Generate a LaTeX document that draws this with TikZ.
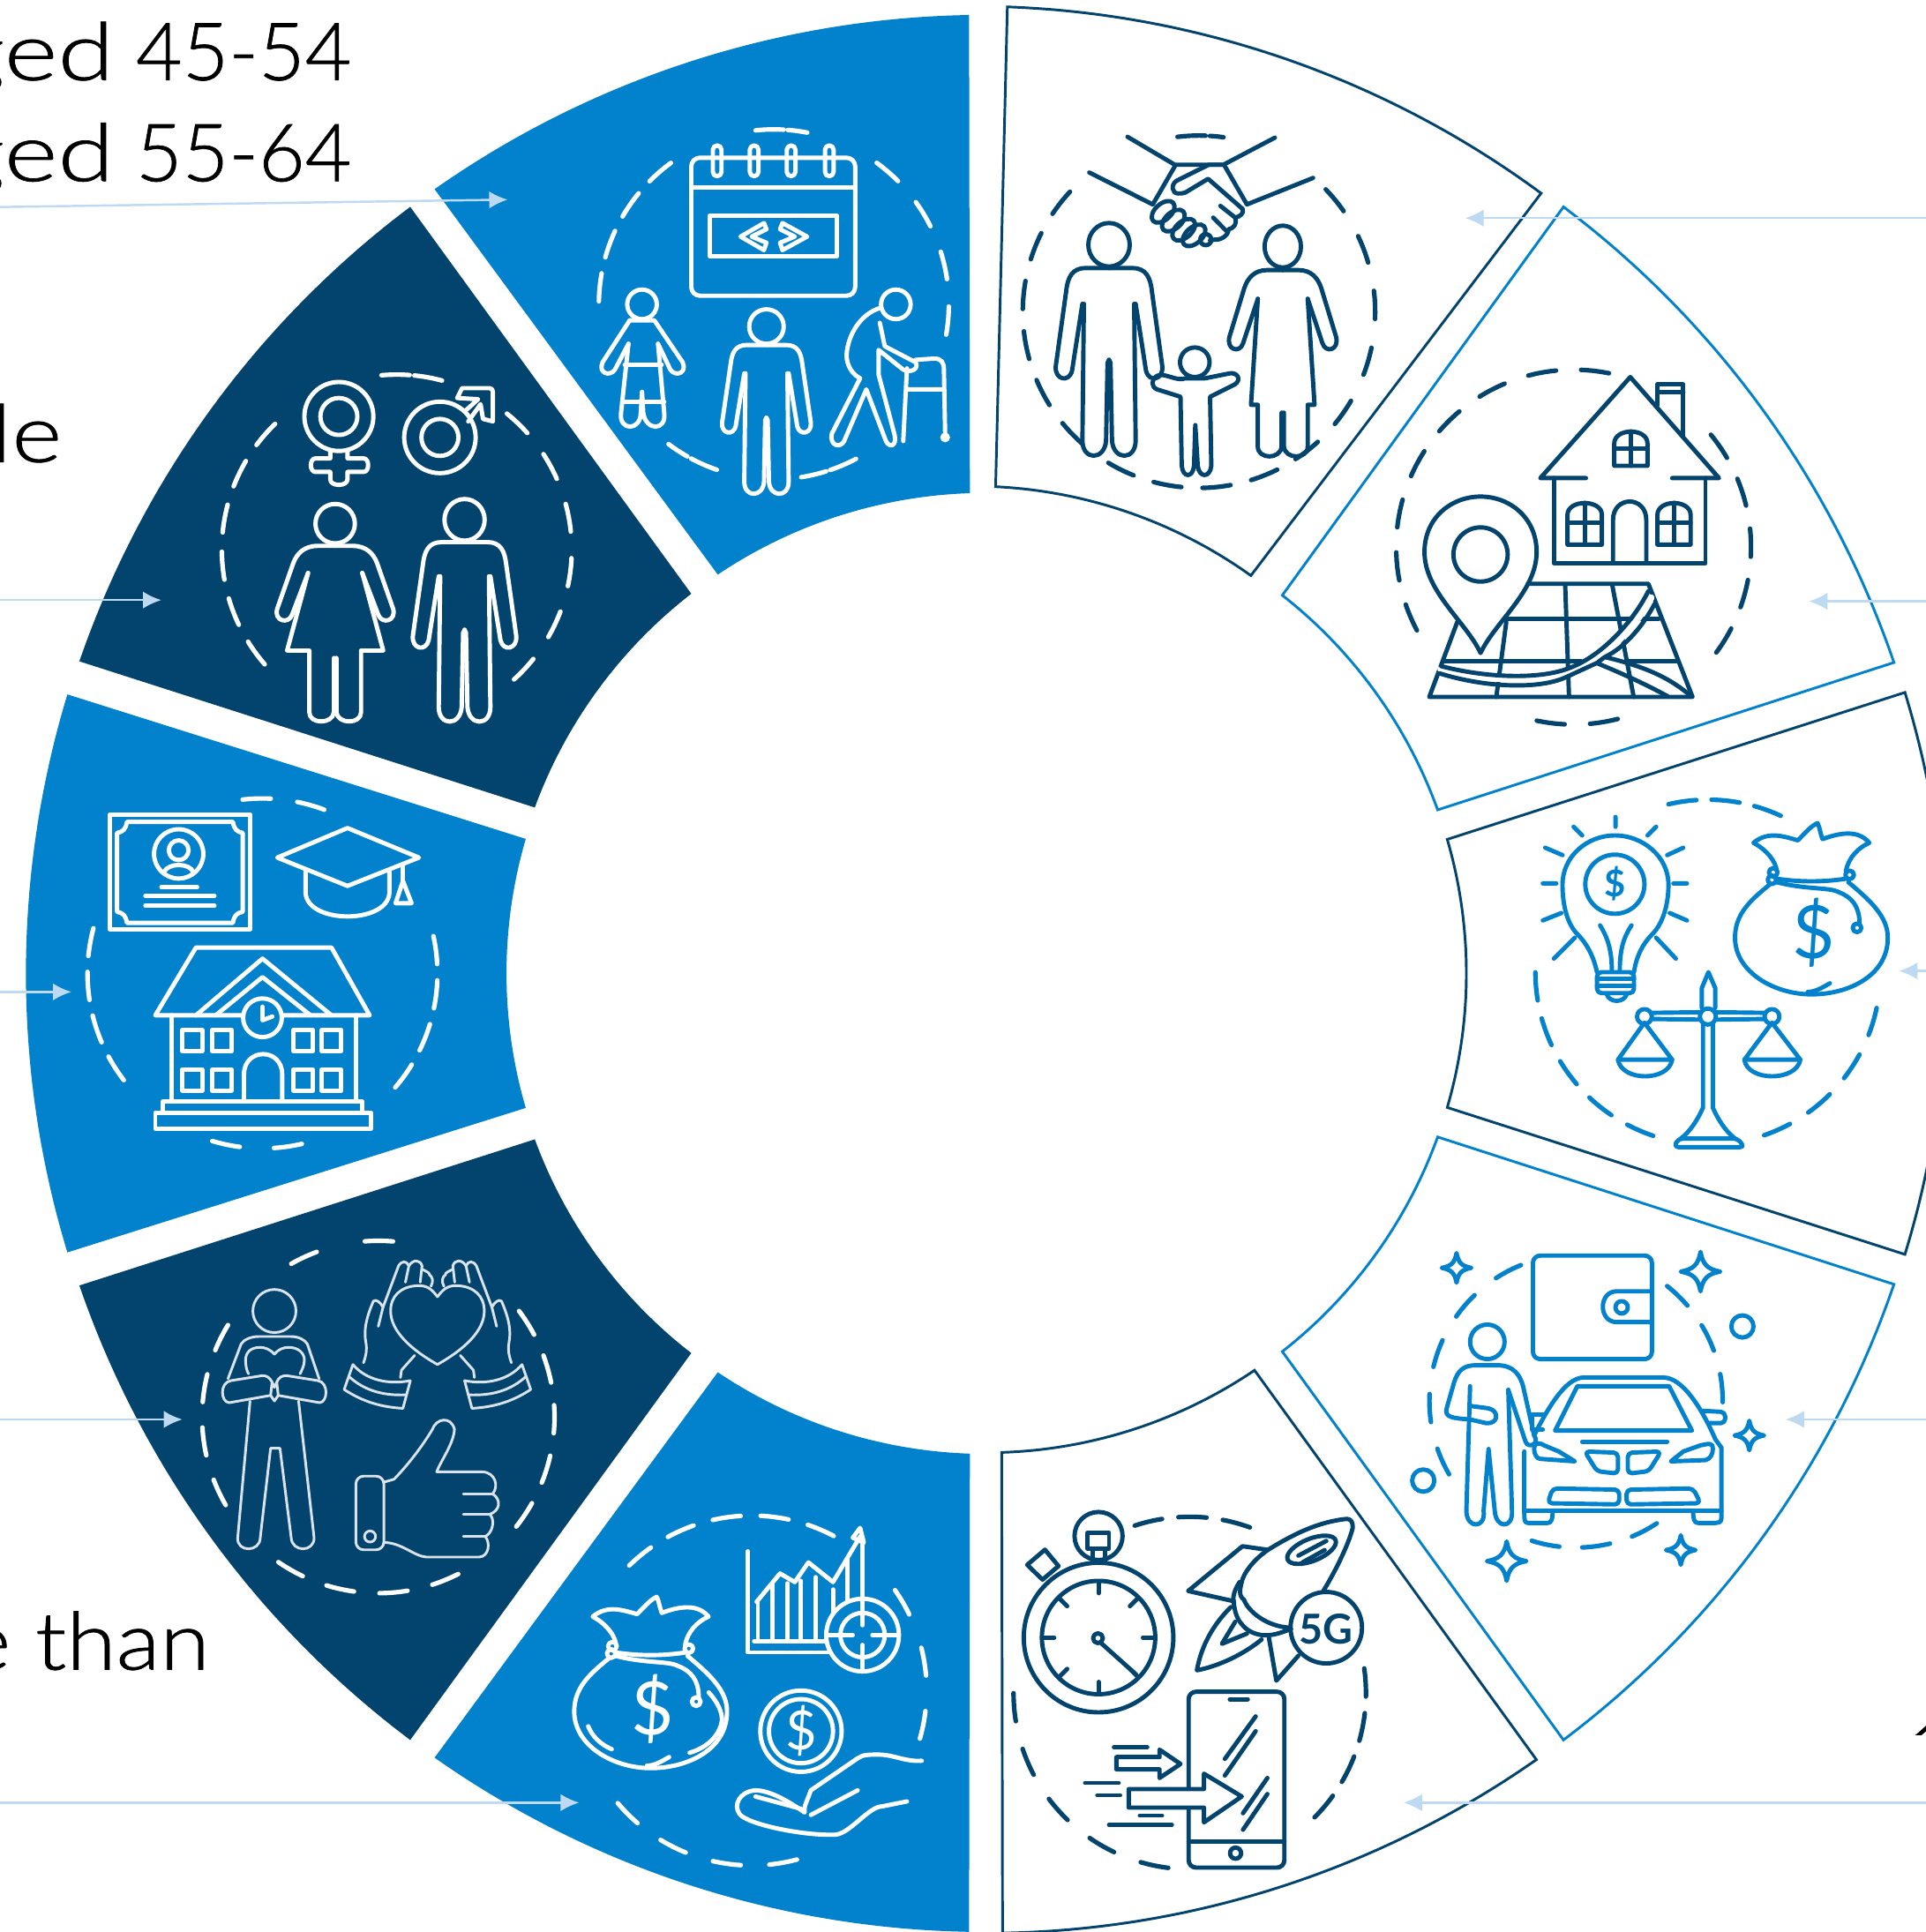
\documentclass[tikz,border=0pt]{standalone}
\usepackage{fontspec}
\usepackage{graphicx}
\setmainfont{Lato}
\newfontfamily\thinfont[RawFeature={embolden=0.8}]{Lato Light}
\usetikzlibrary{arrows.meta}
\definecolor{cblue}{HTML}{0282CD}
\definecolor{cdark}{HTML}{03446F}
\definecolor{clight}{HTML}{BDDAF2}
\tikzset{
 ic/.style={line width=1pt,line cap=round,line join=round},
 thinic/.style={line width=0.6pt,line cap=round,line join=round},
 dsh/.style={line width=1.05pt,line cap=round},
 lead/.style={draw=clight,line width=0.5pt,-{Latex[length=1.5mm,width=1.4mm]}},
 outl/.style={line width=0.6pt,line join=miter},
 big/.style={font=\thinfont\fontsize{18.5}{20}\selectfont,text=black,inner sep=0pt}
}
% ring segment
\newcommand\seg[9]{\path[#9] plot[domain=#5:#6,samples=60] ({#1+#3*cos(\x)},{#2+#3*sin(\x)}) -- plot[domain=#7:#8,samples=40] ({#1+#4*cos(\x)},{#2+#4*sin(\x)}) -- cycle;}
% dashed arc holding a whole number of dashes
\newcommand\dc[5]{%
 \pgfmathsetmacro\dcL{#3*0.004965*abs(#5-#4)}%
 \pgfmathsetmacro\dcN{max(2,round((\dcL+5.5)/12))}%
 \pgfmathsetmacro\dcO{max(1,(\dcL-\dcN*6.5)/(\dcN-1))}%
 \draw[dsh,dash pattern=on 6.5pt off \dcO pt] plot[domain=#4:#5,samples=50] ({#1+#3*cos(\x)},{#2+#3*sin(\x)});}
\newcommand\manhalf{\draw (0,29) -- (16,29) .. controls (25,29) and (28,35) .. (29,44) -- (36,92) .. controls (37,101) and (27,103) .. (25,95) -- (18,52);
 \draw (17,52) -- (18,140) .. controls (18,153) and (3,153) .. (2,140) -- (1,90) -- (0,88);}
\newcommand\manfig{\draw (0,14) circle (14); \manhalf \begin{scope}[xscale=-1]\manhalf\end{scope}}
\newcommand\womanhalf[4]{\draw (0,36) -- (14,36) .. controls (25,36) and (31,42) .. (34,50) -- (47,87) .. controls (50,97) and (38,100) .. (35,92) -- (22,58);
 \draw (22,58) -- (#1,#2) -- (#3,#2) -- (#3,#4-9) .. controls (#3,#4+1) and (2,#4+1) .. (1,#4-9) -- (1,#2+6);}
\newcommand\womanfig[4]{\draw (0,18) circle (16); \womanhalf{#1}{#2}{#3}{#4} \begin{scope}[xscale=-1]\womanhalf{#1}{#2}{#3}{#4}\end{scope}}
\newcommand\bagfig{%
 \draw (-28,-57) .. controls (-29,-65) and (-36,-74) .. (-47,-80) .. controls (-35,-90) and (-22,-85) .. (-11,-82) .. controls (-5,-88) and (0,-94) .. (5,-96) .. controls (7,-92) and (7,-88) .. (9,-83) .. controls (20,-87) and (37,-92) .. (47,-80) .. controls (38,-76) and (30,-68) .. (28,-57);
 \draw (-29,-51) .. controls (-10,-48) and (10,-48) .. (29,-51);
 \draw (-31,-56) circle (3.5) (-32,-50) circle (3.5) (31,-54) circle (3.5);
 \draw (-34,-46) .. controls (-50,-33) and (-62,-22) .. (-62,-3) .. controls (-62,25) and (-30,43) .. (0,43) .. controls (30,43) and (62,28) .. (62,-3) .. controls (62,-20) and (48,-33) .. (30,-48);
 \draw (-28,-48) .. controls (-5,-42) and (15,-44) .. (22,-40) .. controls (33,-36) and (39,-28) .. (39,-15);
 \draw (37,-11) circle (3.5);
 \draw (15,34) .. controls (8,38) and (3,41) .. (-3,41);}
\newcommand\spark[3]{\draw[shift={(#1,#2)}] (0,-#3) .. controls ({.12*#3},{-.35*#3}) and ({.35*#3},{-.12*#3}) .. (#3,0) .. controls ({.35*#3},{.12*#3}) and ({.12*#3},{.35*#3}) .. (0,#3) .. controls ({-.12*#3},{.35*#3}) and ({-.35*#3},{.12*#3}) .. (-#3,0) .. controls ({-.35*#3},{-.12*#3}) and ({-.12*#3},{-.35*#3}) .. cycle;}
\newcommand\archwin[4]{\draw (#1,#4) -- (#1,#3+10) .. controls (#1,#3-3) and (#2,#3-3) .. (#2,#3+10) -- (#2,#4) -- cycle;}
\newcommand\lovehand{%
 \draw (0,1052.5) .. controls (-4,1047) and (-8,1043) .. (-16,1043.4) .. controls (-30,1044) and (-38,1052) .. (-38,1064) .. controls (-38,1080) and (-22,1095) .. (0,1107.4);
 \draw (-68.6,1107.4) -- (-75.7,1127.7) .. controls (-60,1138) and (-45,1142) .. (-28,1143) -- (-22,1120.5) .. controls (-40,1124) and (-58,1120) .. (-68.6,1107.4);
 \draw (-72,1117) .. controls (-60,1128) and (-45,1133) .. (-25,1132);
 \draw (-60,1106) .. controls (-58,1100) and (-57,1096) .. (-58,1090) .. controls (-60,1080) and (-58,1070) .. (-52,1056) .. controls (-50,1054) and (-46,1057) .. (-44.2,1061) -- (-48,1076.4);
 \draw (-44.2,1061) -- (-31.6,1027.4) .. controls (-29,1023) and (-25,1023) .. (-23.2,1027.4) -- (-26,1040.6);
 \draw (-23.2,1027.4) .. controls (-20,1022) and (-14,1022) .. (-12.5,1027.4) -- (-14,1040.6);
 \draw (-12.5,1030) .. controls (-9,1032) and (-6,1033) .. (-6.5,1034.6) .. controls (-4,1036) and (-3,1040) .. (-5.3,1044);
 \draw (-18.5,1100) -- (-29.2,1112) -- (-30,1118);
}
\begin{document}
\begin{tikzpicture}[x=0.01cm,y=-0.01cm]
\useasboundingbox (0,0) rectangle (1563,1568);
\clip (0,0) rectangle (1563,1568);
\fill[white] (0,0) rectangle (1563,1568);
% left filled segments
\seg{800}{790}{778}{390}{234.9}{269}{268.1}{236.1}{fill=cblue}
\seg{800}{790}{778}{390}{199}{233.1}{232.2}{200.2}{fill=cdark}
\seg{800}{790}{779}{389}{163.1}{196.9}{196.3}{163.7}{fill=cblue}
\seg{800}{790}{778}{390}{126.9}{161}{159.8}{127.8}{fill=cdark}
\seg{800}{790}{778}{390}{91}{125.1}{123.9}{91.9}{fill=cblue}
% right outlined segments
\seg{789}{783}{778}{388.5}{-87.9}{-53.6}{-54.4}{-87.2}{draw=cdark,outl}
\seg{800}{790}{779}{390}{-53}{-18.9}{-19.9}{-51.9}{draw=cblue,outl}
\seg{800}{790}{780}{390}{-17}{17}{16.2}{-16.2}{draw=cdark,outl}
\seg{800}{790}{779}{390}{18.9}{53}{51.9}{19.9}{draw=cblue,outl}
\seg{800}{790}{779}{389}{55}{89}{88.1}{55.9}{draw=cdark,outl}

% ===== icon 1: calendar and ages
\begin{scope}[color=white,ic]
\dc{628}{247}{142}{181}{234}
\dc{628}{247}{142}{264}{281}
\dc{628}{247}{142}{-54}{10}
\dc{628}{247}{142}{62}{81}
\dc{628}{247}{142}{109}{127}
\draw[rounded corners=2pt] (561,128) rectangle (694,240);
\draw (561,152) -- (694,152);
\foreach \q in {582,612,642,673} \draw[rounded corners=1pt] (\q-3.5,118) rectangle (\q+3.5,143);
\draw (576,175) rectangle (679,208);
\draw (620,181) -- (601,192) -- (620,203) -- (622,197) -- (610,192) -- (622,186) -- cycle;
\draw (635,181) -- (655,192) -- (635,203) -- (633,197) -- (645,192) -- (633,186) -- cycle;
% child
\draw (521,247) circle (12);
\draw (511,260) -- (531,260) -- (554,294) .. controls (558,303) and (548,306) .. (544,300) -- (534,279);
\draw (511,260) -- (489,294) .. controls (485,303) and (495,306) .. (499,300) -- (510,279);
\draw (510,279) -- (504,335) .. controls (502,350) and (520,350) .. (520,335) -- (521,318) -- (522,335) .. controls (524,350) and (541,350) .. (539,335) -- (534,279);
\draw (507,296) -- (537,296) (505,326) -- (539,326);
\begin{scope}[shift={(622,251)}]\manfig\end{scope}
% elderly
\draw (727,247) circle (12);
\draw (714,250) .. controls (698,255) and (688,272) .. (687,288) .. controls (687,297) and (692,304) .. (698,307) -- (675,352) .. controls (673,362) and (682,364) .. (685,358) -- (703,316) -- (719,358) .. controls (722,364) and (728,362) .. (726,353) -- (713,304) -- (713,284) -- (733,300) .. controls (740,303) and (746,299) .. (743,294) -- (718,281) -- (714,262);
\draw (743,292) -- (758,291) .. controls (764,291) and (766,294) .. (766,300) -- (767,352);
\draw (736,299) -- (733,358) (736,316) -- (766,316);
\fill (767,355) circle (4);
\end{scope}

% ===== icon 2: gender
\begin{scope}[color=white,ic]
\dc{322}{446}{142}{139}{226}
\dc{322}{446}{142}{265}{285}
\dc{322}{446}{142}{-51}{48}
\draw (275,338) circle (28) (275,338) circle (15);
\draw (268,366) -- (268,372) -- (256,372) .. controls (251,372) and (251,383) .. (256,383) -- (268,383) -- (268,389) .. controls (268,395) and (282,395) .. (282,389) -- (282,383) -- (295,383) .. controls (300,383) and (300,372) .. (295,372) -- (282,372) -- (282,366);
\draw (357,355) circle (29) (357,355) circle (15);
\draw (377,334) -- (388,324) -- (371,323) -- (375,315) -- (397,315) .. controls (399,315) and (400,316) .. (400,318) -- (400,342) -- (392,340) -- (390,328) -- (380,342);
\begin{scope}[shift={(272,407)}]\womanfig{39}{121}{21}{180}\end{scope}
\begin{scope}[shift={(377,405)},x=0.01165cm,y=-0.01205cm]\manfig\end{scope}
\end{scope}

% ===== icon 3: school
\begin{scope}[color=white,ic]
\dc{213}{790}{142}{142.4}{195}
\dc{213}{790}{142}{263.5}{290.7}
\dc{213}{790}{142}{-12.3}{40.7}
\dc{213}{790}{142}{77}{106.7}
\draw (89,661) rectangle (203,754);
\draw (103,667) -- (189,667) .. controls (190,673) and (192,675) .. (197,676) -- (197,740) .. controls (192,741) and (190,743) .. (189,749) -- (103,749) .. controls (102,743) and (100,741) .. (95,740) -- (95,676) .. controls (100,675) and (102,673) .. (103,667) -- cycle;
\draw (145,693) circle (20);
\draw (145,690) circle (8);
\draw (133,708) .. controls (136,700) and (154,700) .. (157,708);
\draw (131,720) -- (160,720) (118,727) -- (174,727) (118,735) -- (174,735);
\draw (225,696) -- (282,672) -- (340,696) -- (282,719) -- cycle;
\draw (248,707) -- (248,725) .. controls (250,750) and (314,750) .. (316,725) -- (316,707);
\draw (327,702) -- (327,716);
\draw (327,715) -- (334,733) -- (321,733) -- cycle;
\draw (126,824) -- (159,769) -- (269,769) -- (300,824) -- cycle;
\draw (159,824) -- (213,778) -- (269,824);
\draw (175,824) -- (213,793) -- (252,824);
\draw[fill=cblue] (213,826) circle (15.7);
\draw (213,817) -- (213,828) -- (221,825);
\draw (139,824) -- (139,894) (289,824) -- (289,894);
\draw (132,894) rectangle (294,903);
\draw (126,903) rectangle (301,916);
\foreach \q in {148,172,238,261} \foreach \r in {836,868} \draw (\q,\r) rectangle (\q+16,\r+17);
\draw (198,894) -- (198,872) .. controls (198,850) and (229,850) .. (229,872) -- (229,894);
\end{scope}

% ===== icon 4: love
\begin{scope}[color=white,ic]
\dc{307}{1150}{143}{150}{211.5}
\dc{307}{1150}{143}{240.4}{274.8}
\dc{307}{1150}{143}{-37}{38.5}
\dc{307}{1150}{143}{63}{124.6}
\end{scope}
\begin{scope}[color=white!85!cdark,thinic]
\draw (222.7,1064) circle (17.5);
\draw (185,1119) -- (195.7,1090.7) .. controls (198,1087) and (204,1084.7) .. (210,1084.7) -- (236,1084.7) .. controls (242,1084.7) and (247,1087) .. (249.4,1090.7) -- (259,1119);
\draw (222.7,1099) .. controls (219,1095) and (215,1093.5) .. (211,1093.5) .. controls (203,1093.5) and (199.3,1098) .. (199.3,1103.8) .. controls (199.3,1108) and (200,1112) .. (201.7,1115);
\draw (222.7,1099) .. controls (226,1095) and (230,1093.5) .. (234.2,1093.5) .. controls (242,1093.5) and (247,1098) .. (247,1103.8) .. controls (247,1108) and (245,1112) .. (243.5,1115);
\draw (220.8,1121.7) .. controls (219,1118) and (216,1116) .. (212.4,1116.5) -- (187.4,1120.5) .. controls (178,1122) and (179,1138) .. (186,1138.4) -- (219.6,1132.5) -- (222.7,1137) -- (225.8,1132.5) -- (259.4,1138.4) .. controls (266,1138) and (267,1122) .. (258,1120.5) -- (233,1116.5) .. controls (229,1116) and (226,1118) .. (224.6,1121.7) -- (222.7,1126) -- (220.8,1121.7) -- (219.6,1132.5);
\draw (224.6,1121.7) -- (225.8,1132.5);
\draw (202.9,1137.2) -- (192.9,1248) .. controls (192,1260) and (211,1260) .. (211.2,1248) -- (219.6,1175.4) -- (227.2,1175.4) -- (236.3,1248) .. controls (237,1260) and (255,1260) .. (254.9,1248) -- (242.3,1137);
\begin{scope}[shift={(355,0)}]\lovehand\end{scope}
\begin{scope}[shift={(355,0)},xscale=-1]\lovehand\end{scope}
\draw[rounded corners=1.8pt] (288.8,1198) rectangle (311.5,1257.8);
\draw (300.3,1247) circle (4.5);
\draw (311.5,1202.9) -- (319.8,1200.5) .. controls (330,1190) and (342,1175) .. (350.9,1160) .. controls (354,1151) and (366,1149) .. (368.8,1160) .. controls (368,1172) and (358,1185) .. (354.4,1194.5) -- (391.4,1194.5) .. controls (402,1195) and (405,1206) .. (399.8,1212.4) .. controls (407,1217) and (406,1226) .. (397.4,1229) .. controls (402,1233) and (400,1244) .. (393.8,1247) .. controls (398,1252) and (397,1263) .. (389,1263.7) -- (346,1263.7) .. controls (336,1263) and (326,1252) .. (311.5,1251.8);
\draw (376,1212.4) -- (399.8,1212.4) (376,1229) -- (397.4,1229) (376,1247) -- (393.8,1247);
\end{scope}

% ===== icon 5: money
\begin{scope}[color=white,ic]
\dc{610}{1372}{142}{225.6}{298}
\dc{610}{1372}{142}{-35}{16}
\dc{610}{1372}{142}{75}{140}
\begin{scope}[shift={(528,1392)}]\bagfig\end{scope}
\draw (477.3,1401) .. controls (481,1410) and (488,1416) .. (496.4,1419.6);
\draw (575.1,1373.5) .. controls (583,1382) and (586,1390) .. (585.9,1396) .. controls (584,1410) and (572,1419) .. (559.6,1422.5);
\node (dl5) at (529.8,1387) {\fontsize{17}{17}\selectfont\$};
\draw (607,1259) -- (607,1341) -- (673,1341);
\foreach \q/\t in {615/1300,627/1285,639/1285,650/1283,662/1280,676/1290,688/1265} \draw (\q,1332) -- (\q,\t);
\draw (700,1298) -- (700,1250);
\draw (614,1300) -- (633,1277) -- (645,1284) -- (656,1268) -- (676,1284) -- (698,1247);
\draw (698,1240) -- (701,1252) -- (692,1248) -- cycle;
\draw (612,1332) -- (670,1332);
\draw[fill=cblue] (700,1327) circle (29.5);
\draw (700,1327) circle (18);
\draw (672,1327) -- (692,1327) (708,1327) -- (728,1327) (700,1300) -- (700,1319) (700,1335) -- (700,1354);
\draw (650,1405) circle (33) (650,1405) circle (26);
\node (dl5b) at (650,1405) {\fontsize{12.5}{12.5}\selectfont\$};
\draw (748,1429) .. controls (735,1430) and (725,1424) .. (713,1424) .. controls (705,1424) and (700,1424) .. (696,1427) -- (658,1453) .. controls (655,1462) and (652,1466) .. (653,1471) .. controls (640,1462) and (625,1453) .. (613,1453) .. controls (600,1454) and (595,1465) .. (600,1472) .. controls (605,1480) and (650,1490) .. (678,1489) .. controls (690,1488) and (705,1466) .. (716,1466) -- (736,1462);
\draw (613,1458) -- (650,1468) (696,1453) -- (658,1473);
\end{scope}

% ===== icon 10: family
\begin{scope}[color=cdark,ic]
\dc{973}{253}{143}{131.6}{223}
\dc{973}{253}{143}{263}{278}
\dc{973}{253}{143}{-44}{39.6}
\dc{973}{253}{143}{47.6}{121}
\draw (915,111) -- (953.4,133.7) -- (992.8,133.7) -- (1034.6,111.7);
\draw (884,140) -- (935.5,165.9) -- (953.4,134.9);
\draw (1065.6,144.4) -- (1011.9,165.9) -- (994,134.9);
\draw (992.8,133.7) -- (980.9,133.7) -- (954.6,146.8) .. controls (950,150) and (951,157) .. (956,157) .. controls (958,157) and (960,157) .. (961.8,156.3) -- (980.4,145.1) -- (1008.3,169.5);
\foreach \cx/\cy in {943.9/171.9,952.2/179,960.6/186.4,969/191} \draw[rotate around={42:(\cx,\cy)}] (\cx,\cy) ellipse (11 and 6.5);
\draw (978.5,194.5) circle (4.5);
\draw (1008.3,169.5) .. controls (1010,173) and (1006,176) .. (1002.4,176.6) .. controls (1004,181) and (1002,185) .. (997,186) .. controls (997,191) and (991,195) .. (985.6,194.5) -- (982,195);
\draw (990.4,167.1) -- (1002.4,176.6) (984.5,176.6) -- (995.2,187.4);
\begin{scope}[shift={(900,181)},x=0.012cm,y=-0.0126cm]\manfig\end{scope}
\begin{scope}[shift={(1041,181)},x=0.0092cm,y=-0.0106cm]\womanfig{28}{139}{22}{180}\end{scope}
\draw (969.6,294) circle (12);
\draw (962,307) .. controls (955,310) and (945,302) .. (939,305) .. controls (934,308) and (934,314) .. (939,316) -- (958,322) -- (959,378) .. controls (960,388) and (968,388) .. (969,378) -- (970,345) -- (972,378) .. controls (973,388) and (982,388) .. (983,378) -- (982,322) -- (1002,312) .. controls (1008,308) and (1004,302) .. (998,303) -- (978,307) -- cycle;
\end{scope}

% ===== icon 9: house and map
\begin{scope}[color=cdark,ic]
\dc{1277}{444}{144}{152}{281.6}
\dc{1277}{444}{144}{-39.3}{36.5}
\dc{1277}{444}{144}{75.6}{102}
\draw (1287,388) -- (1250,388) -- (1323,306) -- (1395,388) -- (1357,388);
\draw (1261,388) -- (1261,457) -- (1384,457) -- (1384,388);
\draw (1345,329) -- (1345,312) -- (1366,312) -- (1366,353) (1345,318) -- (1366,318);
\archwin{1310}{1337}{350}{378}
\draw (1323.5,350) -- (1323.5,378) (1310,364) -- (1337,364);
\archwin{1272}{1300}{408}{442}
\draw (1286,408) -- (1286,442) (1272,424) -- (1300,424);
\archwin{1345}{1372}{408}{442}
\draw (1358.5,408) -- (1358.5,442) (1345,424) -- (1372,424);
\draw (1309,457) -- (1309,422) .. controls (1309,402) and (1336,402) .. (1336,422) -- (1336,457);
\draw (1201.5,530) .. controls (1190,505) and (1156,480) .. (1156,448) .. controls (1156,420) and (1178,403) .. (1201.5,403) .. controls (1225,403) and (1247,420) .. (1247,448) .. controls (1247,480) and (1213,505) .. (1201.5,530) -- cycle;
\draw (1201.5,450) circle (22);
\draw (1239.9,473.8) -- (1337.7,473.8) -- (1373.5,565.6) -- (1159.9,565.6) -- (1182.6,504.8);
\draw (1223.1,502.4) -- (1346,502.4) (1171.8,536.5) -- (1283,536.5) (1319.8,536.5) -- (1360.4,536.5);
\draw (1222.4,504.8) -- (1214.3,565.6) (1270.2,475) -- (1273.3,565.6) (1308.4,475) -- (1325.8,565.6);
\begin{scope}[line width=1.5pt,color=white]
\draw (1169,543) .. controls (1215,555) and (1255,553) .. (1280,543) .. controls (1305,533) and (1330,505) .. (1340,485);
\end{scope}
\draw (1169.5,540.6) .. controls (1205,550) and (1250,552) .. (1274.5,541.8) .. controls (1300,532) and (1325,505) .. (1337.7,479.7);
\draw (1168.3,546.5) .. controls (1205,558) and (1250,560) .. (1272.1,549) -- (1296,538) -- (1302,533.4) .. controls (1320,525) and (1335,505) .. (1342.5,490.5);
\draw (1296,538.2) .. controls (1315,546) and (1335,555) .. (1353.2,565);
\draw (1303,533.4) .. controls (1335,541) and (1355,550) .. (1372.3,565);
\end{scope}

% ===== icon 8: bulb, bag, scales
\begin{scope}[color=cblue,ic]
\dc{1386}{789}{140}{108.5}{180}
\dc{1386}{789}{140}{256.8}{295}
\dc{1386}{789}{140}{12}{71}
\draw (1296,789) .. controls (1293,775) and (1287,765) .. (1280,758) .. controls (1272,750) and (1268,735) .. (1268,718) .. controls (1268,695) and (1288,678) .. (1310.5,678) .. controls (1333,678) and (1354,695) .. (1354,718) .. controls (1354,735) and (1349,750) .. (1341,758) .. controls (1334,765) and (1328,775) .. (1326,789);
\draw (1310.5,717.6) circle (24);
\node[font=\fontsize{8.5}{8.5}\selectfont\bfseries] (dl8a) at (1310.5,717) {\$};
\draw (1298.5,751) .. controls (1304,760) and (1308,770) .. (1308,787);
\draw (1324,751) .. controls (1318,760) and (1314.5,770) .. (1314.5,787);
\draw[rounded corners=1pt] (1296,789) rectangle (1326,806);
\draw (1296,794.5) -- (1326,794.5) (1296,800) -- (1326,800);
\draw (1304,807) .. controls (1306,814) and (1318,814) .. (1320,807);
\draw (1311,663) -- (1311,671) (1277,671) -- (1284,678) (1344,671) -- (1337,678) (1254,688) -- (1268,694) (1366,688) -- (1353,694) (1252,717) -- (1263,717) (1358,717) -- (1369,717) (1252,747) -- (1267,741) (1369,747) -- (1355,741) (1261,778) -- (1278,761) (1360,778) -- (1344,761);
\begin{scope}[shift={(1470,764)}]\bagfig\end{scope}
\node (dl8b) at (1471.5,757) {\fontsize{17}{17}\selectfont\$};
\draw (1341,822) -- (1380,821.5) (1392,821.5) -- (1432,822) (1341,827) -- (1380,827.5) (1392,827.5) -- (1432,827);
\draw (1386,825) circle (6.5) (1334.5,825) circle (6) (1438,825) circle (6);
\draw (1381,818) -- (1381,802) -- (1386.4,789) -- (1392,802) -- (1392,818);
\draw (1382,831) -- (1382,899) .. controls (1378,908) and (1372,918) .. (1364,924) (1390,831) -- (1390,899) .. controls (1394,908) and (1400,918) .. (1408,924);
\draw[rounded corners=1pt] (1358.4,931) -- (1362,924) -- (1410,924) -- (1415.7,931) -- cycle;
\draw (1334.5,830) -- (1313,860) -- (1357,860) -- cycle;
\draw (1313,860) .. controls (1316,878) and (1354,878) .. (1357,860);
\draw (1438,830) -- (1415.6,860) -- (1461,860) -- cycle;
\draw (1415.6,860) .. controls (1418,878) and (1458,878) .. (1461,860);
\end{scope}

% ===== icon 7: wallet and car
\begin{scope}[color=cblue,ic]
\dc{1279}{1137}{119}{150}{248}
\dc{1279}{1137}{119}{-51.6}{0.5}
\dc{1279}{1137}{119}{56.6}{107.6}
\draw[rounded corners=1.7pt] (1244,1019) rectangle (1340.6,1103);
\draw (1340,1048) -- (1312,1048) .. controls (1297,1048) and (1297,1073) .. (1312,1073) -- (1340,1073);
\draw (1316,1061) circle (5);
\draw (1207,1089) circle (14);
\draw (1193,1125) -- (1190,1226) .. controls (1190,1241) and (1206,1241) .. (1204,1226) -- (1208,1176) -- (1213,1226) .. controls (1214,1241) and (1228,1241) .. (1227,1226) -- (1224,1128);
\draw (1224,1128) -- (1238,1170) .. controls (1240,1176) and (1250,1172) .. (1245,1165) -- (1236,1125) .. controls (1232,1110) and (1222,1108) .. (1215,1108) -- (1198,1108) .. controls (1188,1108) and (1183,1112) .. (1180,1122) -- (1174,1143) .. controls (1172,1150) and (1178,1151) .. (1193,1152) -- (1206,1155) .. controls (1216,1156) and (1217,1145) .. (1208,1143) -- (1193,1141);
\draw (1245,1165) .. controls (1255,1145) and (1270,1118) .. (1285,1118) -- (1350,1118) .. controls (1366,1118) and (1382,1145) .. (1392,1168) -- (1397,1175) -- (1397,1232) .. controls (1397,1236) and (1394,1236) .. (1392,1236) -- (1378,1236) .. controls (1375,1236) and (1374,1233) .. (1374,1226) -- (1260,1226) .. controls (1260,1233) and (1259,1236) .. (1256,1236) -- (1240,1236) .. controls (1237,1236) and (1237,1233) .. (1237,1228) -- (1237,1178);
\draw (1237,1226) -- (1397,1226);
\draw (1280,1125) -- (1354.5,1125) -- (1373,1161) -- (1262,1161) -- cycle;
\draw (1284,1170) -- (1353,1170);
\draw (1245,1176) .. controls (1245,1170) and (1250,1171) .. (1253,1173) -- (1265,1178) -- (1278,1186) -- (1250,1184) .. controls (1247,1184) and (1245,1180) .. (1245,1176);
\draw (1390,1176) .. controls (1390,1170) and (1386,1172) .. (1380,1173) -- (1366,1178) -- (1356,1186) -- (1384,1185) .. controls (1388,1184) and (1390,1180) .. (1390,1176);
\draw[rounded corners=1pt] (1286,1178) -- (1313,1179) -- (1313,1196) -- (1296,1194) -- cycle;
\draw[rounded corners=1pt] (1348,1178) -- (1321,1179) -- (1321,1196) -- (1338,1194) -- cycle;
\draw[rounded corners=1pt] (1260,1208) -- (1314,1209) -- (1314,1221) -- (1256,1220) -- cycle;
\draw[rounded corners=1pt] (1320,1209) -- (1374,1208) -- (1380,1220) -- (1320,1221) -- cycle;
\draw (1252,1160) -- (1243,1160) -- (1243,1148) -- (1252,1148);
\draw[rounded corners=1pt] (1382,1145) -- (1400,1146) -- (1400,1155) -- (1387,1155);
\spark{1182}{1029}{12}
\spark{1380}{1032}{16}
\spark{1419.6}{1165}{12}
\spark{1222.7}{1267}{16}
\spark{1364}{1258}{12}
\draw (1414,1076.5) circle (9) (1155,1201.6) circle (9);
\end{scope}

% ===== icon 6: speed
\begin{scope}[color=cdark,ic]
\dc{965.5}{1374}{143}{97}{180}
\dc{965.5}{1374}{143}{251.8}{290}
\dc{965.5}{1374}{143}{-8}{44.9}
\draw (891.5,1329) circle (60.7) (891.5,1329) circle (46);
\draw (891,1329.5) circle (4);
\draw (893,1333) -- (922,1359);
\foreach \a in {0,45,90,135,180,225,270,315} \draw ({891.5+36*cos(\a)},{1329+36*sin(\a)}) -- ({891.5+45*cos(\a)},{1329+45*sin(\a)});
\draw (891.5,1246.6) circle (19.5);
\draw (882.6,1244) rectangle (900,1257);
\draw (886.5,1257) -- (886.5,1268) (896.5,1257) -- (896.5,1268);
\draw (833.6,1270) -- (848,1257.7) -- (859,1271) -- (846,1282) -- cycle;
% rocket
\draw (1074,1291) .. controls (1082,1278) and (1094,1255) .. (1097.8,1239.9) .. controls (1098,1235) and (1096,1232.7) .. (1093,1232.7) .. controls (1070,1235) and (1050,1245) .. (1031,1256.6) .. controls (1022,1262) and (1012,1272) .. (1008.3,1281.6) .. controls (1006,1290) and (1005,1295) .. (1009.5,1298.3) .. controls (1013,1308) and (1028,1320) .. (1046.5,1321);
\draw (1005.9,1284) .. controls (1002,1290) and (1000,1296) .. (1001.2,1300.7) .. controls (1002,1308) and (1004,1314) .. (1007.1,1317.4) .. controls (1012,1324) and (1018,1326) .. (1023.8,1327) .. controls (1032,1328) and (1040,1325) .. (1047.7,1322);
\draw[rotate around={22:(1064.4,1257.8)}] (1064.4,1257.8) ellipse (21 and 9);
\draw (1053.7,1262.5) -- (1076.3,1250.6) (1057,1268) -- (1075,1258);
\draw (1028.6,1257.8) -- (1008.3,1254.9) -- (964.2,1291.2) -- (1001.2,1299.5);
\draw (998.8,1304.3) .. controls (985,1318) and (975,1335) .. (971.3,1355.6) .. controls (990,1352) and (1010,1342) .. (1023.8,1330.6);
\draw (1002.4,1316.2) -- (991.6,1334.1) -- (1011.9,1325.8);
\draw (1029.8,1329.4) -- (1035.8,1364) -- (1053.7,1343.7);
\draw (1076.3,1321) circle (29);
\node[font=\fontsize{9.5}{9.5}\selectfont\bfseries] (fiveg) at (1076.3,1322) {5G};
% phone
\draw[rounded corners=1.7pt] (964.6,1373) rectangle (1042.3,1515.7);
\draw (964.6,1494.6) -- (1042.3,1494.6);
\draw (998,1379) -- (1012.6,1379);
\draw (1002.7,1504) circle (4.5);
\draw (1019,1393) -- (994,1427.5) (1019,1405) -- (994,1441) (1028.5,1443) -- (1008.7,1471.6) (1028.5,1456) -- (1008.7,1485);
\draw (906,1426) -- (941,1426) -- (941,1420) -- (958,1431.6) -- (941,1443) -- (941,1436) -- (906,1436) -- cycle;
\draw[fill=white] (916,1452) -- (977,1452) -- (977,1439.5) -- (1007.7,1458) -- (977,1479) -- (977,1467) -- (916,1467) -- cycle;
\draw (904,1418) -- (931,1418) (880.6,1447) -- (907.8,1447) (890.5,1457) -- (909,1457) (925,1473.5) -- (943,1473.5) (900,1481) -- (951,1481);
\end{scope}

% ===== leader arrows
\coordinate (la1) at (0,168); \coordinate (lb1) at (412,162);
\coordinate (la2) at (0,487); \coordinate (lb2) at (131,487);
\coordinate (la3) at (0,805); \coordinate (lb3) at (58,805);
\coordinate (la4) at (0,1152); \coordinate (lb4) at (148,1152);
\coordinate (la5) at (0,1463); \coordinate (lb5) at (470,1463);
\coordinate (ra1) at (1563,177); \coordinate (rb1) at (1189,177);
\coordinate (ra2) at (1563,488); \coordinate (rb2) at (1468,488);
\coordinate (ra3) at (1563,788); \coordinate (rb3) at (1541,788);
\coordinate (ra4) at (1563,1152); \coordinate (rb4) at (1449,1152);
\coordinate (ra5) at (1563,1463); \coordinate (rb5) at (1139,1463);
\foreach \n in {1,...,5} {\draw[lead] (la\n) -- (lb\n); \draw[lead] (ra\n) -- (rb\n);}

% ===== clipped text
\node[big,anchor=base east] (t1) at (286,65) {\scalebox{1.28}[1]{ged} 45-54};
\node[big,anchor=base east] (t2) at (286,147) {\scalebox{1.28}[1]{ged} 55-64};
\node[big,anchor=base east] (t3) at (51,375) {\scalebox{1.2}[1]{le}};
\node[big,anchor=base east] (t4) at (171,1355) {\scalebox{1.13}[1]{e than}};
\begin{scope}
\clip (1540,1380) rectangle (1563,1408);
\node[big,anchor=base west] (t5) at (1546,1444) {1};
\end{scope}
\end{tikzpicture}
\end{document}
